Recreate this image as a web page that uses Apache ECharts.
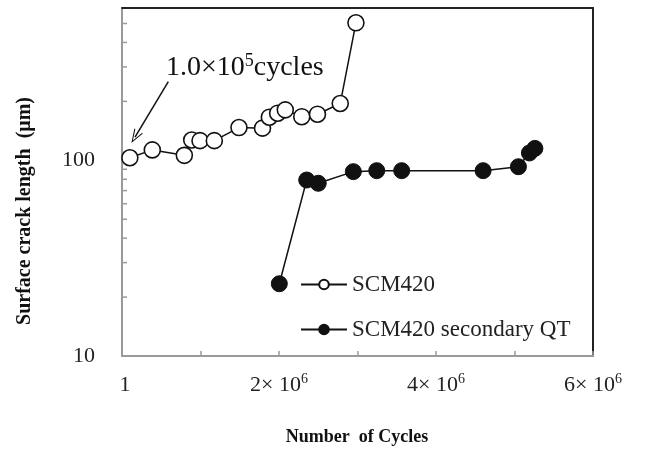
<!DOCTYPE html>
<html>
<head>
<meta charset="utf-8">
<script src="https://cdn.jsdelivr.net/npm/echarts@6/dist/echarts.min.js"></script>
<style>
html,body{margin:0;padding:0;background:#fff;}
#chart{width:647px;height:450px;}
</style>
</head>
<body>
<div id="chart"></div>
<script>
// ---- data ----
const seriesNames = ['SCM420', 'SCM420 secondary QT'];
const scmCycles = [100000, 386000, 794000, 888000, 994000, 1176000, 1490000, 1790000, 1877000, 1983000, 2080000, 2290000, 2490000, 2780000, 2980000];
const scmLength = [103, 113, 106, 127, 126, 126, 147, 146, 166, 174, 181, 167, 172, 195, 504];
const qtCycles = [2004000, 2353000, 2500000, 2947000, 3245000, 3563000, 4600000, 5050000, 5190000, 5260000];
const qtLength = [23.4, 79.3, 76.3, 87.5, 88.5, 88.5, 88.5, 92.7, 109, 115];
const xTickLabels = {0: '1', 2000000: '2× 10', 4000000: '4× 10', 6000000: '6× 10'};
const xTickExp = '6';
const yTickLabels = [10, 100];
const yTickMarks = [20, 30, 40, 50, 60, 70, 80, 90, 100, 200, 300, 400, 500];
const annoText = ['1.0×10', '5', 'cycles'];
const annoAt = [560000, 297];
const arrowFrom = [590000, 252];
const arrowTo = [166000, 131.5];
const xTitle = 'Number  of Cycles';
const yTitle = 'Surface crack length  (μm)';

const FONT = 'Liberation Serif';
const INK = '#111';
const AXIS = '#9a9a9a';

const chart = echarts.init(document.getElementById('chart'), null, {renderer: 'canvas'});

const zip = (a, b) => a.map((v, i) => [v, b[i]]);

const option = {
  backgroundColor: '#fff',
  animation: false,
  grid: {left: 122, right: 54, top: 8, bottom: 94, containLabel: false},
  legend: {
    data: seriesNames,
    orient: 'vertical',
    left: 295,
    top: 268,
    itemWidth: 46,
    itemHeight: 12,
    itemGap: 22,
    textStyle: {fontFamily: FONT, fontSize: 23, color: '#222'}
  },
  xAxis: [{
    type: 'value', min: 0, max: 6000000, interval: 1000000,
    axisLine: {show: true, onZero: false, lineStyle: {color: AXIS, width: 2}},
    axisTick: {show: true, inside: true, length: 5, lineStyle: {color: AXIS, width: 1.5}},
    splitLine: {show: false},
    axisLabel: {
      margin: 16,
      formatter: function (v) {
        const t = xTickLabels[v];
        if (t === undefined) return '';
        if (v === 0) return '{o|' + t + '}';
        return '{a|' + t + '}{s|' + xTickExp + '}';
      },
      rich: {
        o: {fontFamily: FONT, fontSize: 22, color: '#222', lineHeight: 26, padding: [0, 0, 0, 6]},
        a: {fontFamily: FONT, fontSize: 22, color: '#222', lineHeight: 26},
        s: {fontFamily: FONT, fontSize: 14, color: '#222', lineHeight: 14, verticalAlign: 'top'}
      }
    }
  }, {
    type: 'value', min: 0, max: 6000000, position: 'top',
    axisLine: {show: true, onZero: false, lineStyle: {color: '#222', width: 2}},
    axisTick: {show: false}, axisLabel: {show: false}, splitLine: {show: false}
  }],
  yAxis: [{
    type: 'log', logBase: 10, min: 10, max: 600, position: 'left',
    axisLine: {show: true, onZero: false, lineStyle: {color: AXIS, width: 2}},
    axisTick: {show: false},
    splitLine: {show: false},
    axisLabel: {
      margin: 27,
      fontFamily: FONT, fontSize: 22, color: '#222',
      formatter: function (v) {
        const r = Math.round(v);
        return yTickLabels.indexOf(r) >= 0 ? String(r) : '';
      }
    }
  }, {
    type: 'log', logBase: 10, min: 10, max: 600, position: 'right',
    axisLine: {show: true, onZero: false, lineStyle: {color: '#222', width: 2}},
    axisTick: {show: false}, axisLabel: {show: false}, splitLine: {show: false}
  }],
  graphic: [
    {type: 'text', x: 357, y: 437,
     style: {text: xTitle, font: 'bold 18px ' + FONT, fill: '#111', align: 'center', verticalAlign: 'middle'}},
    {type: 'text', rotation: Math.PI / 2, x: 25, y: 211,
     style: {text: yTitle, font: 'bold 20px ' + FONT, fill: '#111', align: 'center', verticalAlign: 'middle'}}
  ],
  series: [
    {
      name: 'ticks', type: 'custom', silent: true, clip: false,
      data: yTickMarks.map(v => [0, v]),
      renderItem: function (params, api) {
        const p = api.coord([api.value(0), api.value(1)]);
        return {type: 'line', shape: {x1: p[0], y1: p[1], x2: p[0] + 5, y2: p[1]},
                style: {stroke: AXIS, lineWidth: 1.5}};
      },
      z: 1
    },
    {
      name: seriesNames[0], type: 'line', data: zip(scmCycles, scmLength),
      symbol: 'circle', symbolSize: 16, showAllSymbol: true,
      lineStyle: {color: INK, width: 1.5},
      itemStyle: {color: '#fff', borderColor: INK, borderWidth: 1.6},
      z: 3,
      markLine: {
        silent: true, animation: false,
        symbol: ['none', 'path://M0,0 L6,12 L4.6,12 L0,2.5 L-4.6,12 L-6,12 Z'],
        symbolSize: [10, 14],
        lineStyle: {color: INK, width: 1.5, type: 'solid'},
        label: {show: false},
        data: [[{coord: arrowFrom}, {coord: arrowTo}]]
      },
      markPoint: {
        silent: true, animation: false,
        symbol: 'circle', symbolSize: 0,
        label: {
          show: true, position: 'right', distance: 0,
          formatter: '{a|' + annoText[0] + '}{s|' + annoText[1] + '}{a|' + annoText[2] + '}',
          rich: {
            a: {fontFamily: FONT, fontSize: 28, color: '#111', lineHeight: 32},
            s: {fontFamily: FONT, fontSize: 18, color: '#111', lineHeight: 18, verticalAlign: 'top'}
          }
        },
        data: [{coord: annoAt}]
      }
    },
    {
      name: seriesNames[1], type: 'line', data: zip(qtCycles, qtLength),
      symbol: 'circle', symbolSize: 16, showAllSymbol: true,
      lineStyle: {color: INK, width: 1.5},
      itemStyle: {color: INK, borderColor: INK, borderWidth: 1},
      z: 3
    }
  ]
};
chart.setOption(option);
</script>
</body>
</html>
